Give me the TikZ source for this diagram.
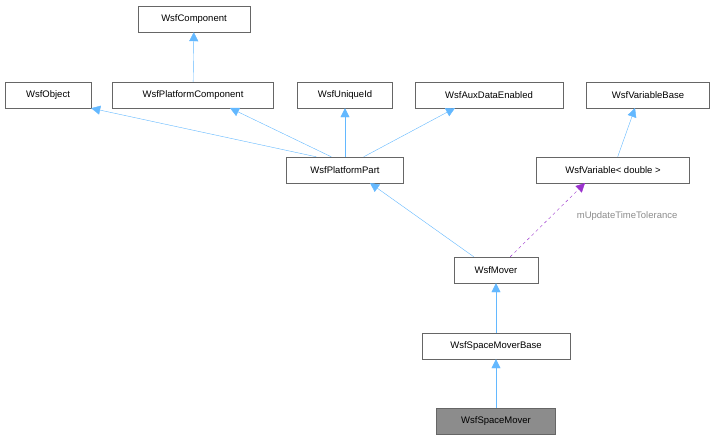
\documentclass[tikz,border=0pt]{standalone}
\usepackage{fontspec}
\setmainfont{Liberation Sans}
\usetikzlibrary{arrows.meta}
\definecolor{edgeblue}{HTML}{63B8FF}
\definecolor{edgepurple}{HTML}{9A32CD}
\tikzset{
  cls/.style={draw=black!60, fill=white, minimum height=26pt, inner xsep=5pt,
    font=\fontsize{9.5}{11}\selectfont},
  inh/.style={draw=edgeblue, -{Triangle[open, fill=edgeblue, length=9pt, width=9pt]}},
  use/.style={draw=edgepurple, dashed, -{Triangle[open, fill=edgepurple, length=9pt, width=9pt]}}
}
\begin{document}
\begin{tikzpicture}[x=1pt, y=-1pt]
  \useasboundingbox (0,0) rectangle (721,440);
  \node[cls, minimum width=112pt] (comp) at (194,19) {WsfComponent};
  \node[cls, minimum width=86pt] (obj) at (48,95) {WsfObject};
  \node[cls, minimum width=161pt] (pcomp) at (193,95) {WsfPlatformComponent};
  \node[cls, minimum width=95pt] (uid) at (345,95) {WsfUniqueId};
  \node[cls, minimum width=148pt] (aux) at (489,95) {WsfAuxDataEnabled};
  \node[cls, minimum width=123pt] (varbase) at (648,95) {WsfVariableBase};
  \node[cls, minimum width=117pt] (ppart) at (345,170) {WsfPlatformPart};
  \node[cls, minimum width=153pt] (var) at (613,170) {WsfVariable< double >};
  \node[cls, minimum width=84pt] (mover) at (496,270) {WsfMover};
  \node[cls, minimum width=148pt] (smbase) at (496,346) {WsfSpaceMoverBase};
  \node[cls, minimum width=119pt, fill=black!45] (smover) at (496,421) {WsfSpaceMover};

  \draw[inh] (pcomp) -- (comp);
  \draw[inh] (ppart.north west) ++(30,0) -- (obj.south east);
  \draw[inh] (ppart.north west) ++(45,0) -- (230,108);
  \draw[inh] (ppart) -- (uid);
  \draw[inh] (ppart.north east) ++(-40,0) -- (455,108);
  \draw[inh] (var) -- (635,108);
  \draw[inh] (mover.north west) ++(20,0) -- (370,183);
  \draw[use] (mover.north east) ++(-28,0) -- (585,183)
    node[pos=0.55, right=22pt, text=black!45, font=\fontsize{9.5}{11}\selectfont] {mUpdateTimeTolerance};
  \draw[inh] (smbase) -- (mover);
  \draw[inh] (smover) -- (smbase);
\end{tikzpicture}
\end{document}
